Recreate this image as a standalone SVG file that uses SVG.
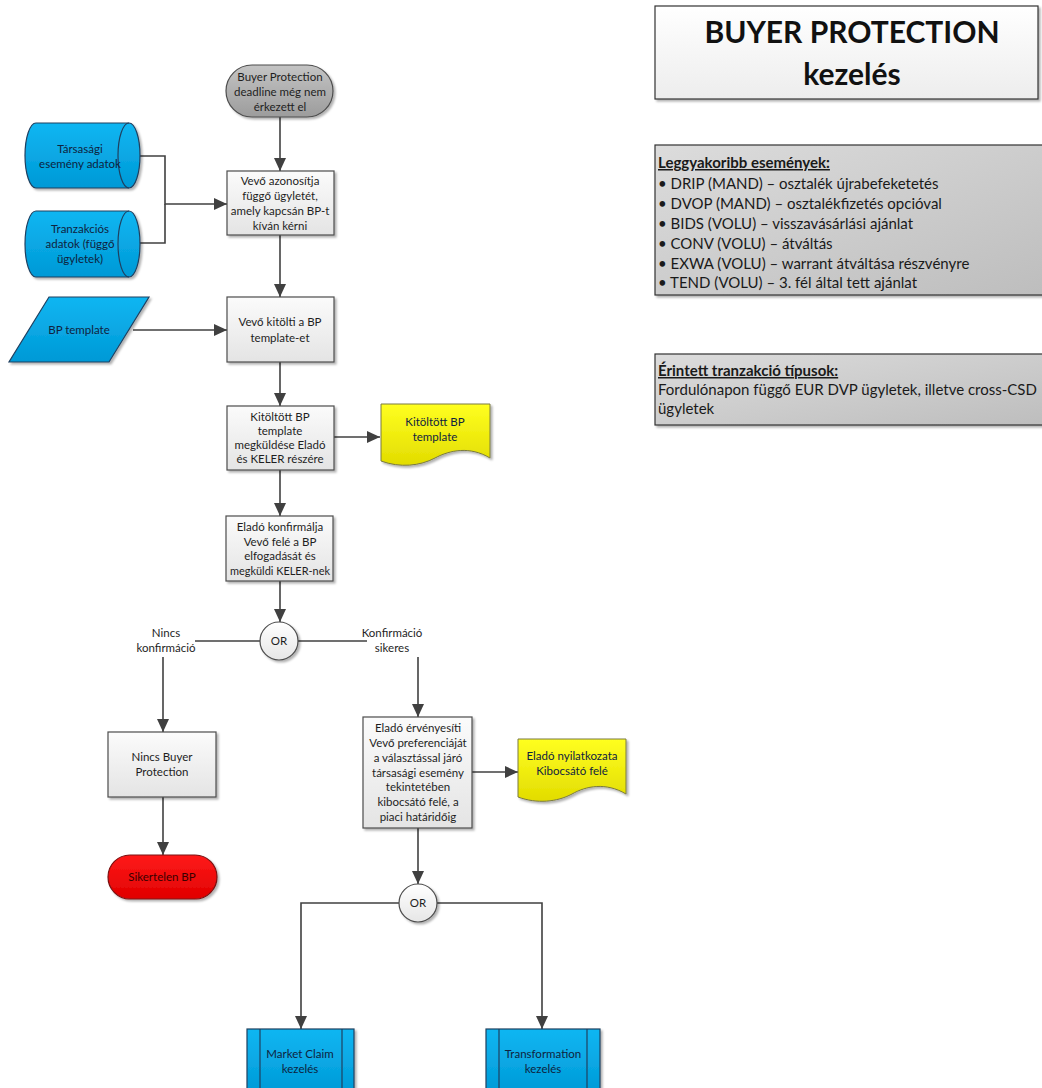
<svg xmlns="http://www.w3.org/2000/svg" width="1042" height="1088" viewBox="0 0 1042 1088">
<defs>
  <linearGradient id="gProc" x1="0" y1="0" x2="0" y2="1"><stop offset="0" stop-color="#fbfbfb"/><stop offset="1" stop-color="#e4e4e4"/></linearGradient>
  <linearGradient id="gTerm" x1="0" y1="0" x2="0" y2="1"><stop offset="0" stop-color="#c4c4c4"/><stop offset="1" stop-color="#9c9c9c"/></linearGradient>
  <linearGradient id="gBlue" x1="0" y1="0" x2="0" y2="1"><stop offset="0" stop-color="#10b6f2"/><stop offset="1" stop-color="#0099d6"/></linearGradient>
  <linearGradient id="gYellow" x1="0" y1="0" x2="0" y2="1"><stop offset="0" stop-color="#ffff20"/><stop offset="1" stop-color="#e2dc00"/></linearGradient>
  <linearGradient id="gRed" x1="0" y1="0" x2="0" y2="1"><stop offset="0" stop-color="#ff1a1a"/><stop offset="1" stop-color="#e00000"/></linearGradient>
  <linearGradient id="gOr" x1="0" y1="0" x2="0" y2="1"><stop offset="0" stop-color="#ffffff"/><stop offset="1" stop-color="#e6e6e6"/></linearGradient>
  <linearGradient id="gTitle" x1="0" y1="0" x2="0" y2="1"><stop offset="0" stop-color="#ffffff"/><stop offset="1" stop-color="#ededed"/></linearGradient>
  <linearGradient id="gInfo" x1="0" y1="0" x2="1" y2="1"><stop offset="0" stop-color="#dcdcdc"/><stop offset="1" stop-color="#bdbdbd"/></linearGradient>
  <filter id="sh" x="-10%" y="-10%" width="130%" height="130%">
    <feDropShadow dx="2" dy="2" stdDeviation="1.2" flood-color="#000" flood-opacity="0.3"/>
  </filter>
  <marker id="arr" markerUnits="userSpaceOnUse" markerWidth="14" markerHeight="12" refX="13" refY="6" orient="auto">
    <path d="M0,0 L13,6 L0,12 z" fill="#404040"/>
  </marker>
</defs>
<style>
  .t{font-family:Lato,"Liberation Sans",sans-serif;font-size:11.5px;fill:#1e1e1e;text-anchor:middle}
  .tb{font-family:Lato,"Liberation Sans",sans-serif;font-size:11.5px;fill:#0f2340;text-anchor:middle}
  .proc{fill:url(#gProc);stroke:#4d4d4d;stroke-width:1.2;filter:url(#sh)}
  .blue{fill:url(#gBlue);stroke:#1f4060;stroke-width:1.2;filter:url(#sh)}
  .yel{fill:url(#gYellow);stroke:#7a7a40;stroke-width:1;filter:url(#sh)}
  .or{fill:url(#gOr);stroke:#4d4d4d;stroke-width:1.2;filter:url(#sh)}
  .c{fill:none;stroke:#404040;stroke-width:1.6}
  .ca{fill:none;stroke:#404040;stroke-width:1.6;marker-end:url(#arr)}
  .info{font-family:Lato,"Liberation Sans",sans-serif;font-size:15px;fill:#1a1a1a}
  .infoh{font-family:Lato,"Liberation Sans",sans-serif;font-size:15px;font-weight:bold;fill:#1a1a1a;text-decoration:underline}
</style>
<rect width="1042" height="1088" fill="#ffffff"/>

<g id="connectors">
  <path class="ca" d="M280,117 V171"/>
  <path class="ca" d="M132,156 H165 V204 H227"/>
  <path class="c" d="M132,243 H165 V204"/>
  <path class="ca" d="M280,235 V297"/>
  <path class="ca" d="M133,330 H227"/>
  <path class="ca" d="M280,362 V406"/>
  <path class="ca" d="M334,437 H380"/>
  <path class="ca" d="M280,470 V516"/>
  <path class="ca" d="M280,581 V622"/>
  <path class="c" d="M260,641 H195"/>
  <path class="ca" d="M163,657 V732"/>
  <path class="c" d="M298,641 H367"/>
  <path class="ca" d="M418,657 V717"/>
  <path class="ca" d="M163,797 V855"/>
  <path class="ca" d="M472,772 H518"/>
  <path class="ca" d="M418,828 V884"/>
  <path class="ca" d="M399,903 H301 V1029"/>
  <path class="ca" d="M437,903 H542 V1029"/>
  <text class="t" x="166" y="637">Nincs</text>
  <text class="t" x="166" y="652">konfirmáció</text>
  <text class="t" x="392" y="637">Konfirmáció</text>
  <text class="t" x="392" y="652">sikeres</text>
</g>

<g id="start">
  <rect x="226" y="65" width="107" height="52" rx="26" fill="url(#gTerm)" stroke="#4d4d4d" stroke-width="1.2" filter="url(#sh)"/>
  <text class="t" x="280" y="81">Buyer Protection</text>
  <text class="t" x="280" y="96">deadline még nem</text>
  <text class="t" x="280" y="111">érkezett el</text>
</g>

<g id="tarsasagi">
  <path class="blue" d="M36,123 H129 A11,32.5 0 0 1 129,188 H36 A11,32.5 0 0 1 36,123 Z"/>
  <path fill="none" stroke="#1f4060" stroke-width="1.2" d="M129,123 A11,32.5 0 0 0 129,188"/>
  <text class="tb" x="80" y="153">Társasági</text>
  <text class="tb" x="80" y="168">esemény adatok</text>
</g>

<g id="tranzakcios">
  <path class="blue" d="M36,211 H129 A11,33 0 0 1 129,277 H36 A11,33 0 0 1 36,211 Z"/>
  <path fill="none" stroke="#1f4060" stroke-width="1.2" d="M129,211 A11,33 0 0 0 129,277"/>
  <text class="tb" x="80" y="233">Tranzakciós</text>
  <text class="tb" x="80" y="248">adatok (függő</text>
  <text class="tb" x="80" y="263">ügyletek)</text>
</g>

<g id="box1">
  <rect class="proc" x="227" y="171" width="107" height="64"/>
  <text class="t" x="280" y="185">Vevő azonosítja</text>
  <text class="t" x="280" y="200">függő ügyletét,</text>
  <text class="t" x="280" y="215">amely kapcsán BP-t</text>
  <text class="t" x="280" y="230">kíván kérni</text>
</g>

<g id="bptemplate">
  <path class="blue" d="M49,297 H149 L109,362 H9 Z"/>
  <text class="tb" x="79" y="334">BP template</text>
</g>

<g id="box2">
  <rect class="proc" x="227" y="297" width="107" height="65"/>
  <text class="t" x="280" y="326">Vevő kitölti a BP</text>
  <text class="t" x="280" y="342">template-et</text>
</g>

<g id="box3">
  <rect class="proc" x="227" y="406" width="107" height="64"/>
  <text class="t" x="280" y="421">Kitöltött BP</text>
  <text class="t" x="280" y="435">template</text>
  <text class="t" x="280" y="449">megküldése Eladó</text>
  <text class="t" x="280" y="463">és KELER részére</text>
</g>

<g id="doc1">
  <path class="yel" d="M381,404 H490 V458 C470,446 450,450 435,458 C420,466 400,468 381,461 Z"/>
  <text class="tb" x="435" y="426">Kitöltött BP</text>
  <text class="tb" x="435" y="441">template</text>
</g>

<g id="box4">
  <rect class="proc" x="226" y="516" width="107" height="65"/>
  <text class="t" x="280" y="531">Eladó konfirmálja</text>
  <text class="t" x="280" y="546">Vevő felé a BP</text>
  <text class="t" x="280" y="560">elfogadását és</text>
  <text class="t" x="280" y="575" textLength="100" lengthAdjust="spacingAndGlyphs">megküldi KELER-nek</text>
</g>

<g id="or1">
  <circle class="or" cx="279" cy="641" r="19"/>
  <text class="t" x="279" y="645">OR</text>
</g>

<g id="nincs">
  <rect class="proc" x="108" y="732" width="108" height="65"/>
  <text class="t" x="162" y="761">Nincs Buyer</text>
  <text class="t" x="162" y="776">Protection</text>
</g>

<g id="sikertelen">
  <rect x="108" y="855" width="109" height="44" rx="22" fill="url(#gRed)" stroke="#7a1010" stroke-width="1.2" filter="url(#sh)"/>
  <text class="t" x="162" y="881" style="fill:#3a0000">Sikertelen BP</text>
</g>

<g id="elado">
  <rect class="proc" x="363" y="717" width="109" height="111"/>
  <text class="t" x="418" y="732">Eladó érvényesíti</text>
  <text class="t" x="418" y="747">Vevő preferenciáját</text>
  <text class="t" x="418" y="762">a választással járó</text>
  <text class="t" x="418" y="777">társasági esemény</text>
  <text class="t" x="418" y="791">tekintetében</text>
  <text class="t" x="418" y="806">kibocsátó felé, a</text>
  <text class="t" x="418" y="821">piaci határidőig</text>
</g>

<g id="doc2">
  <path class="yel" d="M518,739 H626 V794 C606,782 586,786 572,794 C557,802 537,804 518,797 Z"/>
  <text class="tb" x="572" y="760">Eladó nyilatkozata</text>
  <text class="tb" x="572" y="775">Kibocsátó felé</text>
</g>

<g id="or2">
  <circle class="or" cx="418" cy="903" r="19"/>
  <text class="t" x="418" y="907">OR</text>
</g>

<g id="marketclaim">
  <rect class="blue" x="247" y="1029" width="107" height="66"/>
  <line x1="260" y1="1029" x2="260" y2="1095" stroke="#1f4060" stroke-width="1.2"/>
  <line x1="342" y1="1029" x2="342" y2="1095" stroke="#1f4060" stroke-width="1.2"/>
  <text class="tb" x="300" y="1058">Market Claim</text>
  <text class="tb" x="300" y="1073">kezelés</text>
</g>

<g id="transformation">
  <rect class="blue" x="486" y="1029" width="114" height="66"/>
  <line x1="499" y1="1029" x2="499" y2="1095" stroke="#1f4060" stroke-width="1.2"/>
  <line x1="587" y1="1029" x2="587" y2="1095" stroke="#1f4060" stroke-width="1.2"/>
  <text class="tb" x="543" y="1058">Transformation</text>
  <text class="tb" x="543" y="1073">kezelés</text>
</g>

<g id="title">
  <rect x="655" y="6" width="383" height="93" fill="url(#gTitle)" stroke="#333" stroke-width="1.2" filter="url(#sh)"/>
  <text x="852" y="43" text-anchor="middle" style="font-family:Lato,'Liberation Sans',sans-serif;font-size:30px;font-weight:bold;fill:#111">BUYER PROTECTION</text>
  <text x="852" y="85" text-anchor="middle" style="font-family:Lato,'Liberation Sans',sans-serif;font-size:30px;font-weight:bold;fill:#111">kezelés</text>
</g>

<g id="events">
  <rect x="655" y="145" width="400" height="150" fill="url(#gInfo)" stroke="#333" stroke-width="1.2" filter="url(#sh)"/>
  <text class="infoh" x="658" y="168">Leggyakoribb események:</text>
  <text class="info" x="658" y="189">• DRIP (MAND) – osztalék újrabefeketetés</text>
  <text class="info" x="658" y="209">• DVOP (MAND) – osztalékfizetés opcióval</text>
  <text class="info" x="658" y="229">• BIDS (VOLU) – visszavásárlási ajánlat</text>
  <text class="info" x="658" y="249">• CONV (VOLU) – átváltás</text>
  <text class="info" x="658" y="269">• EXWA (VOLU) – warrant átváltása részvényre</text>
  <text class="info" x="658" y="288">• TEND (VOLU) – 3. fél által tett ajánlat</text>
</g>

<g id="tranzakciotipusok">
  <rect x="655" y="354" width="400" height="71" fill="url(#gInfo)" stroke="#333" stroke-width="1.2" filter="url(#sh)"/>
  <text class="infoh" x="658" y="376">Érintett tranzakció típusok:</text>
  <text class="info" x="658" y="395">Fordulónapon függő EUR DVP ügyletek, illetve cross-CSD</text>
  <text class="info" x="658" y="414">ügyletek</text>
</g>
</svg>
